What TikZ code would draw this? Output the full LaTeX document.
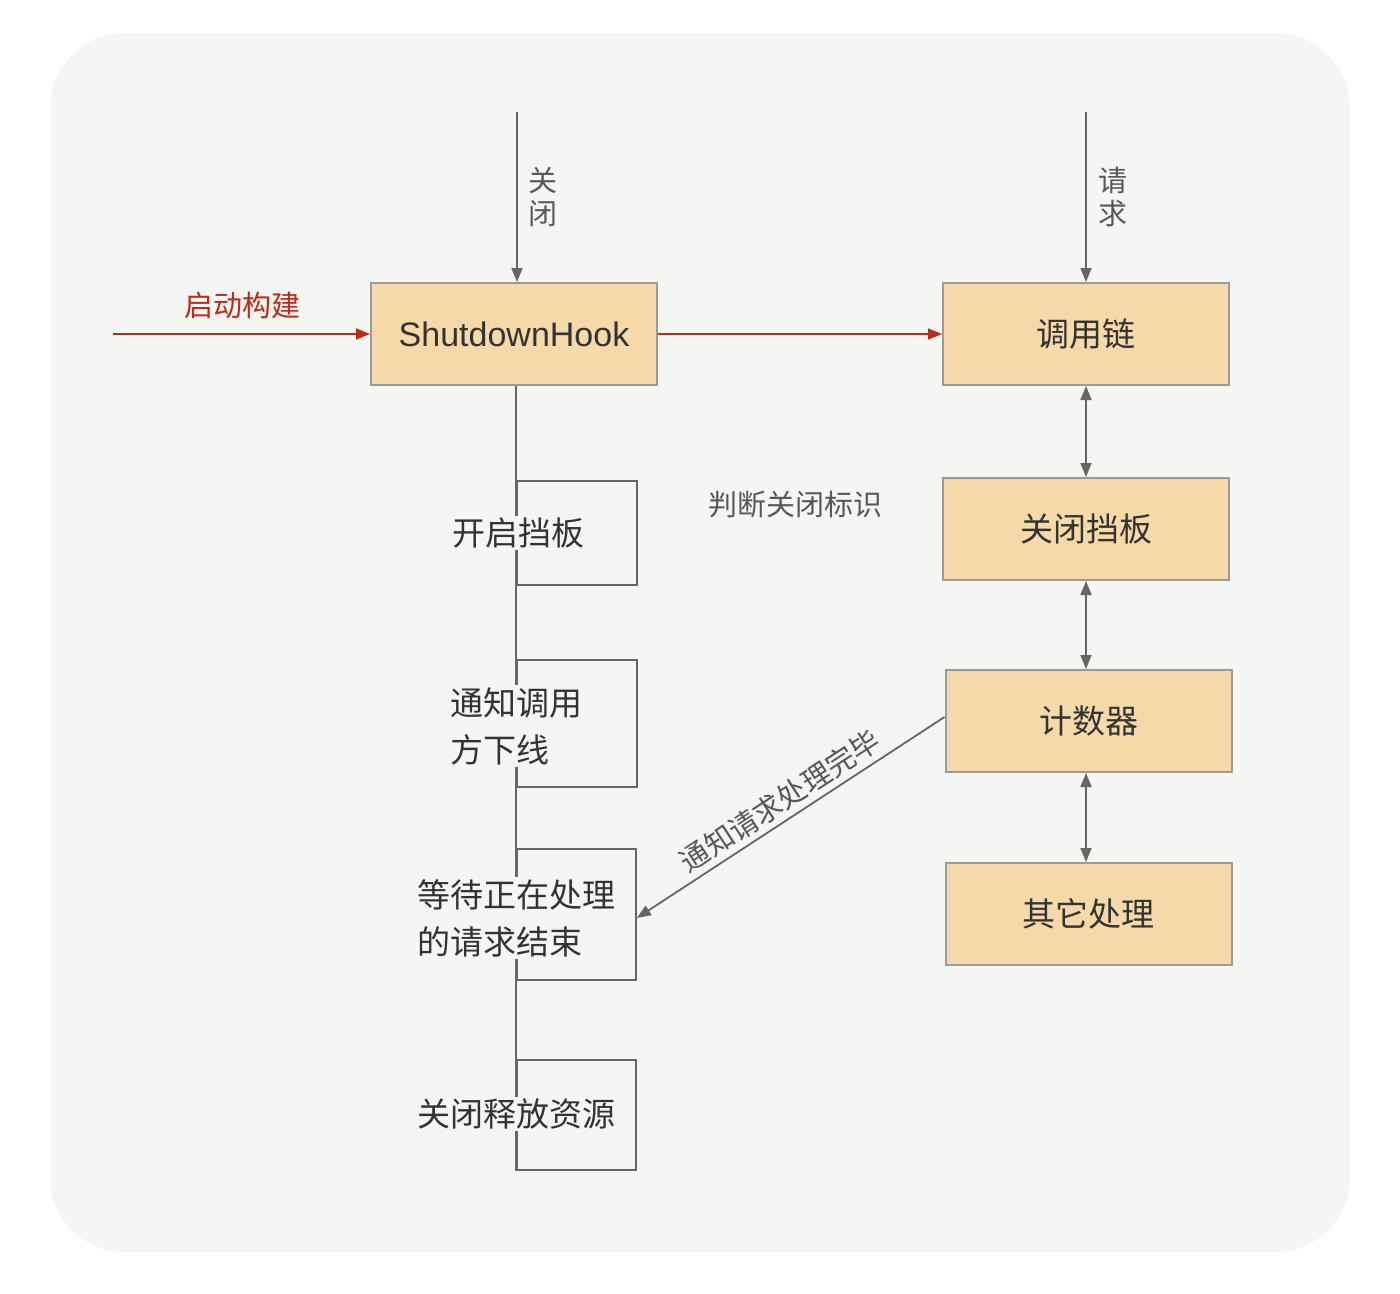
\documentclass[tikz,border=0pt]{standalone}
\usepackage{fontspec}
\setmainfont{Liberation Sans}
\newfontfamily\cjk{Noto Sans CJK SC}
\usetikzlibrary{positioning,arrows.meta}
\definecolor{bgpaper}{HTML}{F5F5F3}
\definecolor{boxfill}{HTML}{F5D9A8}
\definecolor{boxline}{HTML}{9A9A9A}
\definecolor{flowline}{HTML}{666666}
\definecolor{startred}{HTML}{BE2A17}
\definecolor{labelgrey}{HTML}{585858}
\definecolor{textdark}{HTML}{333333}
\newcommand{\boxfont}{\cjk\fontsize{33}{47}\selectfont}
\newcommand{\labfont}{\cjk\fontsize{29}{33}\selectfont}

\begin{document}
\begin{tikzpicture}[x=1pt,y=-1pt,
    mainbox/.style={draw=boxline,line width=2pt,fill=boxfill,minimum width=286pt,minimum height=102pt,text=textdark,font=\boxfont},
    stagebox/.style={draw=flowline,line width=1.8pt,minimum width=120pt},
    stagetext/.style={fill=bgpaper,inner sep=2pt,text=textdark,font=\boxfont,align=left},
    glabel/.style={text=labelgrey,font=\labfont},
    garrow/.style={draw=flowline,line width=1.8pt,-{Triangle[length=14pt,width=11pt]}},
    gdouble/.style={draw=flowline,line width=1.8pt,{Triangle[length=14pt,width=11pt]}-{Triangle[length=14pt,width=11pt]}},
    rarrow/.style={draw=startred,line width=1.6pt,-{Triangle[length=14pt,width=11pt]}}]
  \fill[white] (0,0) rectangle (1400,1293);
  \useasboundingbox (0,0) rectangle (1400,1293);
  \fill[bgpaper,rounded corners=75pt] (50,33) rectangle (1350,1252);

  % right column
  \node[mainbox,font=\fontsize{34}{40}\selectfont] (hook) at (514,334) {ShutdownHook};
  \node[mainbox] (chain) at (1086,334) {调用链};
  \node[mainbox] (gate) at (1086,529) {关闭挡板};
  \node[mainbox] (counter) at (1088.5,721) {计数器};
  \node[mainbox] (other) at (1088.5,914) {其它处理};

  % shutdown stages
  \node[stagebox,minimum height=104pt] (open) at (577,533) {};
  \node[stagebox,minimum height=127pt] (notify) at (577,723.5) {};
  \node[stagebox,minimum width=119pt,minimum height=131pt] (wait) at (576.5,914.5) {};
  \node[stagebox,minimum width=119pt,minimum height=110pt] (release) at (576.5,1115) {};
  \draw[flowline,line width=1.8pt] (hook.south -| open.west) -- (release.south west);
  \node[stagetext] (opentext) at (518,533) {开启挡板};
  \node[stagetext] (notifytext) at (516,726) {通知调用\\方下线};
  \node[stagetext] (waittext) at (516,918) {等待正在处理\\的请求结束};
  \node[stagetext] (releasetext) at (516,1114) {关闭释放资源};

  % inputs
  \coordinate (closein) at (517,112);
  \draw[garrow] (closein) -- (closein |- hook.north);
  \node[glabel,align=center] (closelabel) at (543,197) {关\\闭};
  \coordinate (reqin) at (1086,112);
  \draw[garrow] (reqin) -- (chain.north);
  \node[glabel,align=center] (reqlabel) at (1113,197) {请\\求};
  \coordinate (startin) at (113,334);
  \draw[rarrow] (startin) -- (hook.west);
  \node[glabel,text=startred] (startlabel) at (242,305) {启动构建};
  \draw[rarrow] (hook.east) -- (chain.west);

  % request path
  \draw[gdouble] (chain.south) -- (gate.north);
  \draw[gdouble] (gate.south) -- (gate.south |- counter.north);
  \draw[gdouble] (counter.south -| gate) -- (gate |- other.north);
  \node[glabel] (judge) at (795,505) {判断关闭标识};
  \draw[garrow] ([yshift=4pt]counter.west) -- ([yshift=-3.5pt]wait.east)
    node[midway,sloped,above=2pt,glabel] (donelabel) {通知请求处理完毕};
\end{tikzpicture}
\end{document}
